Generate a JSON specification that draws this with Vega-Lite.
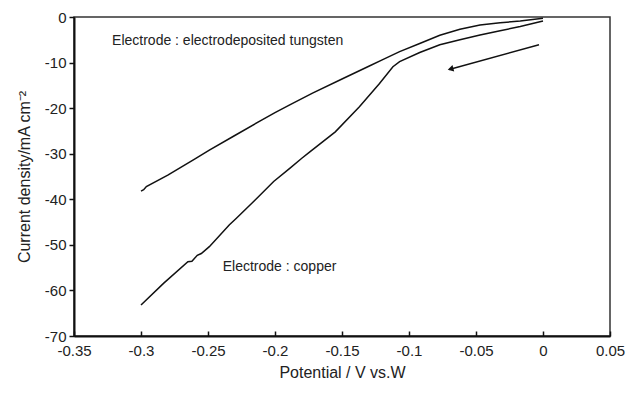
{
  "$schema": "https://vega.github.io/schema/vega-lite/v6.json",
  "autosize": {"type": "none"},
  "width": 536,
  "height": 319,
  "padding": {"left": 74, "top": 17, "right": 18, "bottom": 57},
  "background": "white",
  "config": {
    "font": "Liberation Sans",
    "view": {"stroke": "#333", "strokeWidth": 1.5},
    "axis": {
      "grid": false,
      "domainColor": "#111",
      "domainWidth": 2,
      "tickColor": "#111",
      "tickWidth": 1.5,
      "labelFont": "Liberation Sans",
      "labelFontSize": 15,
      "labelColor": "#222",
      "titleFont": "Liberation Sans",
      "titleFontSize": 16,
      "titleFontWeight": "normal",
      "titleColor": "#222"
    }
  },
  "datasets": {
    "curves": [
      {"series": "tungsten", "potential": -0.300, "current": -38.2},
      {"series": "tungsten", "potential": -0.298, "current": -37.9},
      {"series": "tungsten", "potential": -0.296, "current": -37.2},
      {"series": "tungsten", "potential": -0.280, "current": -34.7},
      {"series": "tungsten", "potential": -0.260, "current": -31.2},
      {"series": "tungsten", "potential": -0.249, "current": -29.2},
      {"series": "tungsten", "potential": -0.230, "current": -26.0},
      {"series": "tungsten", "potential": -0.211, "current": -22.8},
      {"series": "tungsten", "potential": -0.200, "current": -21.0},
      {"series": "tungsten", "potential": -0.189, "current": -19.3},
      {"series": "tungsten", "potential": -0.172, "current": -16.7},
      {"series": "tungsten", "potential": -0.150, "current": -13.6},
      {"series": "tungsten", "potential": -0.130, "current": -10.8},
      {"series": "tungsten", "potential": -0.120, "current": -9.4},
      {"series": "tungsten", "potential": -0.107, "current": -7.6},
      {"series": "tungsten", "potential": -0.092, "current": -5.8},
      {"series": "tungsten", "potential": -0.077, "current": -4.0},
      {"series": "tungsten", "potential": -0.062, "current": -2.7},
      {"series": "tungsten", "potential": -0.047, "current": -1.75},
      {"series": "tungsten", "potential": -0.032, "current": -1.25},
      {"series": "tungsten", "potential": -0.017, "current": -0.9},
      {"series": "tungsten", "potential": 0.000, "current": -0.3},
      {"series": "copper", "potential": -0.300, "current": -63.2},
      {"series": "copper", "potential": -0.283, "current": -58.4},
      {"series": "copper", "potential": -0.265, "current": -53.7},
      {"series": "copper", "potential": -0.262, "current": -53.6},
      {"series": "copper", "potential": -0.258, "current": -52.3},
      {"series": "copper", "potential": -0.255, "current": -51.9},
      {"series": "copper", "potential": -0.249, "current": -50.4},
      {"series": "copper", "potential": -0.234, "current": -45.6},
      {"series": "copper", "potential": -0.229, "current": -44.2},
      {"series": "copper", "potential": -0.215, "current": -40.2},
      {"series": "copper", "potential": -0.201, "current": -36.1},
      {"series": "copper", "potential": -0.189, "current": -33.2},
      {"series": "copper", "potential": -0.180, "current": -31.0},
      {"series": "copper", "potential": -0.174, "current": -29.6},
      {"series": "copper", "potential": -0.155, "current": -25.2},
      {"series": "copper", "potential": -0.137, "current": -19.7},
      {"series": "copper", "potential": -0.122, "current": -14.6},
      {"series": "copper", "potential": -0.112, "current": -10.9},
      {"series": "copper", "potential": -0.107, "current": -9.8},
      {"series": "copper", "potential": -0.092, "current": -7.8},
      {"series": "copper", "potential": -0.077, "current": -6.1},
      {"series": "copper", "potential": -0.062, "current": -5.0},
      {"series": "copper", "potential": -0.047, "current": -3.95},
      {"series": "copper", "potential": -0.032, "current": -3.0},
      {"series": "copper", "potential": -0.017, "current": -2.1},
      {"series": "copper", "potential": 0.000, "current": -0.9}
    ],
    "labels": [
      {"potential": -0.3216, "current": -5.3, "text": "Electrode : electrodeposited tungsten"},
      {"potential": -0.239, "current": -54.9, "text": "Electrode : copper"}
    ],
    "arrow": [
      {"potential": -0.003, "current": -6.1, "potential2": -0.070, "current2": -11.5}
    ],
    "arrowhead": [
      {"potential": -0.069, "current": -11.4}
    ]
  },
  "layer": [
    {
      "data": {"name": "curves"},
      "mark": {"type": "line", "color": "#111", "strokeWidth": 1.5},
      "encoding": {
        "x": {
          "field": "potential", "type": "quantitative",
          "scale": {"domain": [-0.35, 0.05], "nice": false, "zero": false},
          "axis": {
            "title": "Potential / V vs.W",
            "values": [-0.35, -0.3, -0.25, -0.2, -0.15, -0.1, -0.05, 0, 0.05],
            "labelExpr": "toString(datum.value)",
            "tickSize": -5,
            "labelPadding": 12,
            "titlePadding": 6,
            "labelFlush": false
          }
        },
        "y": {
          "field": "current", "type": "quantitative",
          "scale": {"domain": [-70, 0], "nice": false, "zero": false},
          "axis": {
            "title": "Current density/mA cm⁻²",
            "values": [-70, -60, -50, -40, -30, -20, -10, 0],
            "labelExpr": "toString(datum.value)",
            "tickSize": 5,
            "labelPadding": 3,
            "titlePadding": 12,
            "labelFlush": false
          }
        },
        "detail": {"field": "series"},
        "order": {"field": "potential", "type": "quantitative"}
      }
    },
    {
      "data": {"name": "labels"},
      "mark": {"type": "text", "align": "left", "baseline": "middle", "fontSize": 14, "color": "#222", "font": "Liberation Sans"},
      "encoding": {
        "x": {"field": "potential", "type": "quantitative"},
        "y": {"field": "current", "type": "quantitative"},
        "text": {"field": "text"}
      }
    },
    {
      "data": {"name": "arrow"},
      "mark": {"type": "rule", "color": "#111", "strokeWidth": 1.5},
      "encoding": {
        "x": {"field": "potential", "type": "quantitative"},
        "y": {"field": "current", "type": "quantitative"},
        "x2": {"field": "potential2"},
        "y2": {"field": "current2"}
      }
    },
    {
      "data": {"name": "arrowhead"},
      "mark": {"type": "point", "shape": "triangle-left", "filled": true, "color": "#111", "size": 45, "angle": -15, "opacity": 1},
      "encoding": {
        "x": {"field": "potential", "type": "quantitative"},
        "y": {"field": "current", "type": "quantitative"}
      }
    }
  ]
}
